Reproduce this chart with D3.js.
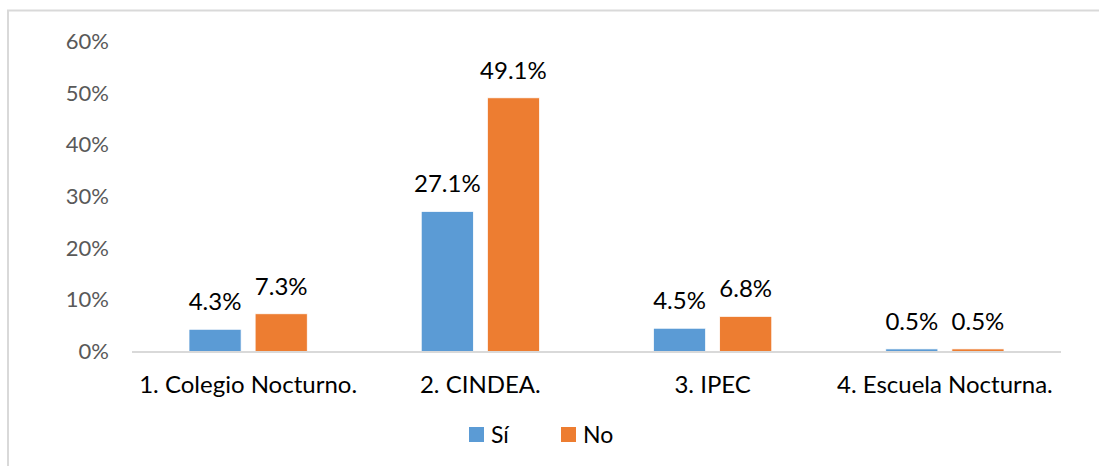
<!DOCTYPE html>
<html>
<head>
<meta charset="utf-8">
<script src="https://cdn.jsdelivr.net/npm/d3@7"></script>
<style>
	body { margin: 0; background: #fff; }
	svg { display: block; }
</style>
</head>
<body>
<svg width="1099" height="466"></svg>
<script>
// chart data
var categories = ["1. Colegio Nocturno.", "2. CINDEA.", "3. IPEC", "4. Escuela Nocturna."];
var seriesNames = ["Sí", "No"];
var siValues = [4.3, 27.1, 4.5, 0.5];
var noValues = [7.3, 49.1, 6.8, 0.5];
var yTicks = [0, 10, 20, 30, 40, 50, 60];

var COLORS = ["#5B9BD5", "#ED7D31"];
var FONT = "Lato, 'Open Sans', sans-serif";

var svg = d3.select("svg"),
	margin = { top: 41.5, left: 132, right: 38, bottom: 114.5 },
	width = +svg.attr("width") - margin.left - margin.right,
	height = +svg.attr("height") - margin.top - margin.bottom;

// outer frame (only top and left edges are visible in the crop)
svg.append("path")
	.attr("d", "M8,466V10.5H1099")
	.attr("fill", "none")
	.attr("stroke", "#D9D9D9")
	.attr("stroke-width", 2);

var g = svg.append("g").attr("transform", "translate(" + margin.left + "," + margin.top + ")");

var x = d3.scaleBand()
	.domain(categories)
	.range([0, width]);

// two bars of ~52px with a 14px gap, centred in each band
var x1 = d3.scaleBand()
	.domain(seriesNames)
	.range([57, x.bandwidth() - 57])
	.paddingInner(14 / 66);

var y = d3.scaleLinear()
	.domain([0, 60])
	.range([height, 0]);

var data = categories.map(function(c, i) {
	return { cat: c, vals: [siValues[i], noValues[i]] };
});

// y axis labels
var yaxis = g.append("g")
	.call(d3.axisLeft(y).tickValues(yTicks).tickSize(0).tickPadding(23)
		.tickFormat(function(d) { return d + "%"; }));
yaxis.select(".domain").remove();
yaxis.selectAll("text")
	.attr("fill", "#595959")
	.attr("font-size", "22px")
	.attr("font-family", FONT);

// bars
var groups = g.selectAll(".grp").data(data)
	.enter().append("g")
		.attr("class", "grp")
		.attr("transform", function(d) { return "translate(" + x(d.cat) + ",0)"; });

groups.selectAll("rect")
	.data(function(d) { return d.vals.map(function(v, j) { return { key: seriesNames[j], v: v, j: j }; }); })
	.enter().append("rect")
		.attr("x", function(d) { return x1(d.key); })
		.attr("width", x1.bandwidth())
		.attr("y", function(d) { return y(d.v); })
		.attr("height", function(d) { return height - y(d.v); })
		.attr("fill", function(d) { return COLORS[d.j]; })
		.attr("stroke", "#fff")
		.attr("stroke-width", 0.75);

groups.selectAll("text.lbl")
	.data(function(d) { return d.vals.map(function(v, j) { return { key: seriesNames[j], v: v }; }); })
	.enter().append("text")
		.attr("class", "lbl")
		.attr("text-anchor", "middle")
		.attr("x", function(d) { return x1(d.key) + x1.bandwidth() / 2; })
		.attr("y", function(d) { return y(d.v) - 19; })
		.attr("font-size", "24px")
		.attr("font-family", FONT)
		.attr("fill", "#000")
		.text(function(d) { return d.v.toFixed(1) + "%"; });

// baseline
g.append("line")
	.attr("x1", 0).attr("x2", width)
	.attr("y1", height + 0.5).attr("y2", height + 0.5)
	.attr("stroke", "#D9D9D9")
	.attr("stroke-width", 2);

// x axis labels
var xaxis = g.append("g")
	.attr("transform", "translate(0," + height + ")")
	.call(d3.axisBottom(x).tickSize(0).tickPadding(24));
xaxis.select(".domain").remove();
xaxis.selectAll("text")
	.attr("fill", "#000")
	.attr("font-size", "24px")
	.attr("font-family", FONT);

// legend
var legendX = [469, 561];
var leg = svg.append("g");
seriesNames.forEach(function(name, i) {
	leg.append("rect")
		.attr("x", legendX[i]).attr("y", 427)
		.attr("width", 15).attr("height", 15)
		.attr("fill", COLORS[i]);
	leg.append("text")
		.attr("x", legendX[i] + 22).attr("y", 443)
		.attr("font-size", "23px")
		.attr("font-family", FONT)
		.attr("fill", "#000")
		.text(name);
});
</script>
</body>
</html>
